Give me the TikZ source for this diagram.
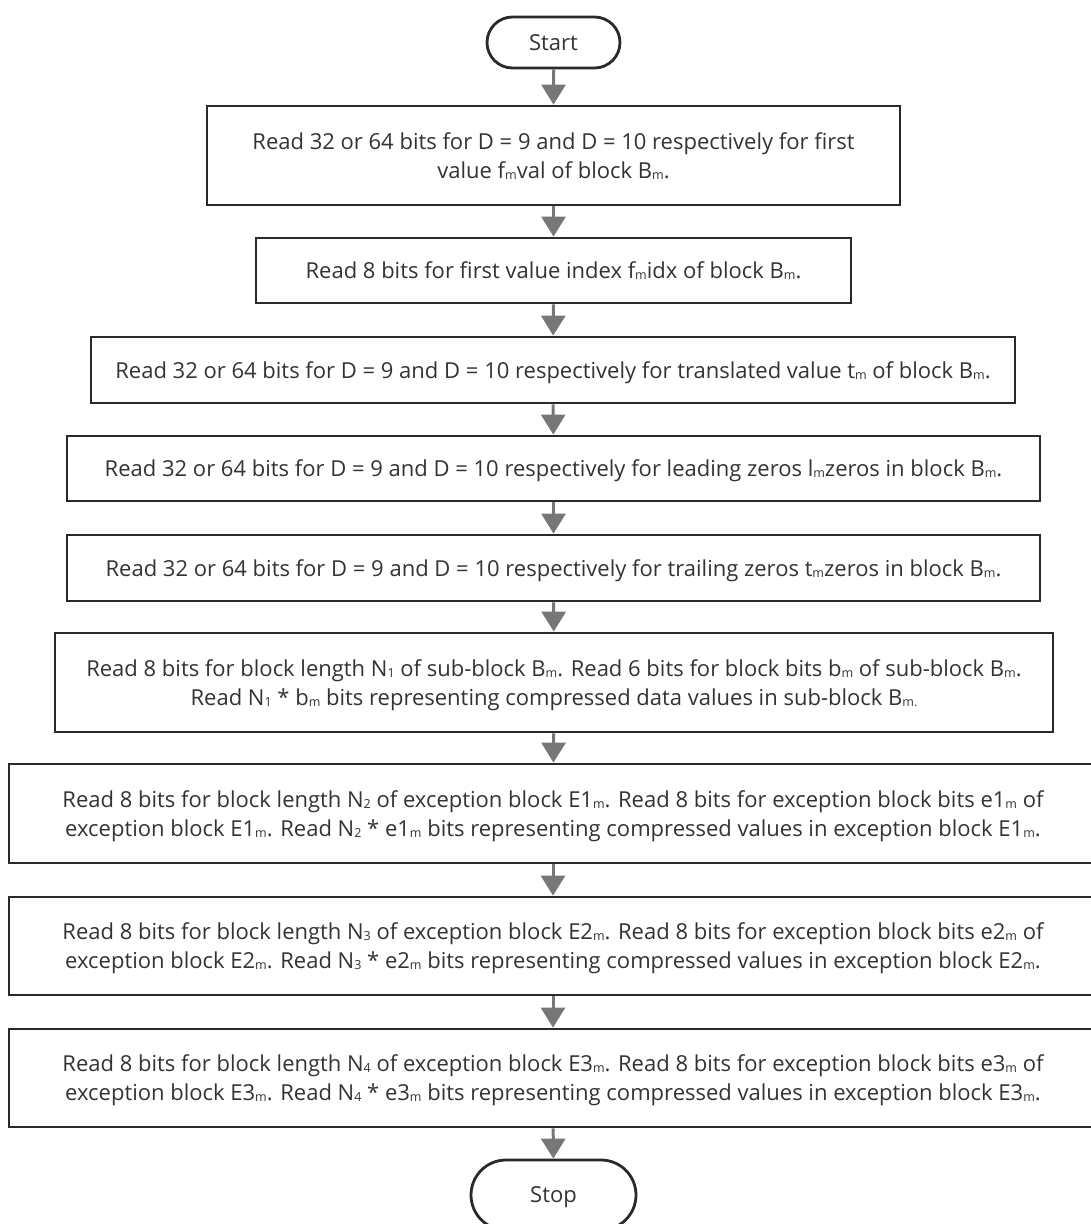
\documentclass[tikz,border=0pt]{standalone}
\usepackage{fontspec}
\setmainfont{Open Sans}
\usetikzlibrary{arrows.meta,shapes.misc}
\definecolor{txt}{HTML}{333333}
\definecolor{bord}{HTML}{2A2A2A}
\definecolor{arr}{HTML}{777777}
\newcommand\sbs[1]{\raisebox{-0.6pt}{\fontsize{12.5}{12.5}\selectfont #1}}
\tikzset{
  box/.style={draw=bord, line width=2.8pt, fill=white, rectangle, align=center, text=txt,
    font=\fontsize{22}{29}\selectfont, inner sep=0pt, text depth=0pt},
  term/.style={draw=bord, line width=2.8pt, fill=white, rounded rectangle, text=txt,
    font=\fontsize{22}{29}\selectfont, inner sep=0pt},
  flow/.style={draw=arr, line width=3pt, -{Triangle[width=24pt,length=20pt]}}
}
\begin{document}
\begin{tikzpicture}[x=1pt,y=-1pt]
\useasboundingbox (0,0) rectangle (1091,1224);
\node[term, minimum width=133pt, minimum height=51pt] (start) at (553.5,42.5) {Start};
\node[box, minimum width=693pt, minimum height=99pt] (b1) at (553.5,155.5)
 {Read 32 or 64 bits for D = 9 and D = 10 respectively for first\\ value f\sbs{m}val of block B\sbs{m}.};
\node[box, minimum width=595pt, minimum height=65pt] (b2) at (553.5,270.5)
 {Read 8 bits for first value index f\sbs{m}idx of block B\sbs{m}.};
\node[box, minimum width=924pt, minimum height=66pt] (b3) at (553,370)
 {Read 32 or 64 bits for D = 9 and D = 10 respectively for translated value t\sbs{m} of block B\sbs{m}.};
\node[box, minimum width=973pt, minimum height=65pt] (b4) at (553.5,468.5)
 {Read 32 or 64 bits for D = 9 and D = 10 respectively for leading zeros l\sbs{m}zeros in block B\sbs{m}.};
\node[box, minimum width=973pt, minimum height=66pt] (b5) at (553.5,568)
 {Read 32 or 64 bits for D = 9 and D = 10 respectively for trailing zeros t\sbs{m}zeros in block B\sbs{m}.};
\node[box, minimum width=998pt, minimum height=99pt] (b6) at (554,682.5)
 {Read 8 bits for block length N\sbs{1} of sub-block B\sbs{m}. Read 6 bits for block bits b\sbs{m} of sub-block B\sbs{m}.\\
  Read N\sbs{1} * b\sbs{m} bits representing compressed data values in sub-block B\sbs{m.}};
\node[box, minimum width=1088pt, minimum height=99pt] (b7) at (553,813.5)
 {Read 8 bits for block length N\sbs{2} of exception block E1\sbs{m}. Read 8 bits for exception block bits e1\sbs{m} of\\
  exception block E1\sbs{m}. Read N\sbs{2} * e1\sbs{m} bits representing compressed values in exception block E1\sbs{m}.};
\node[box, minimum width=1088pt, minimum height=98pt] (b8) at (553,946)
 {Read 8 bits for block length N\sbs{3} of exception block E2\sbs{m}. Read 8 bits for exception block bits e2\sbs{m} of\\
  exception block E2\sbs{m}. Read N\sbs{3} * e2\sbs{m} bits representing compressed values in exception block E2\sbs{m}.};
\node[box, minimum width=1088pt, minimum height=98pt] (b9) at (553,1078)
 {Read 8 bits for block length N\sbs{4} of exception block E3\sbs{m}. Read 8 bits for exception block bits e3\sbs{m} of\\
  exception block E3\sbs{m}. Read N\sbs{4} * e3\sbs{m} bits representing compressed values in exception block E3\sbs{m}.};
\node[term, minimum width=165pt, minimum height=70pt, text depth=0pt] (stop) at (553.5,1195) {Stop};
\draw[flow] (start) -- (b1);
\draw[flow] (b1) -- (b2);
\draw[flow] (b2) -- (b3);
\draw[flow] (b3) -- (b4);
\draw[flow] (b4) -- (b5);
\draw[flow] (b5) -- (b6);
\draw[flow] (b6) -- (b7);
\draw[flow] (b7) -- (b8);
\draw[flow] (b8) -- (b9);
\draw[flow] (b9) -- (stop);
\end{tikzpicture}
\end{document}
